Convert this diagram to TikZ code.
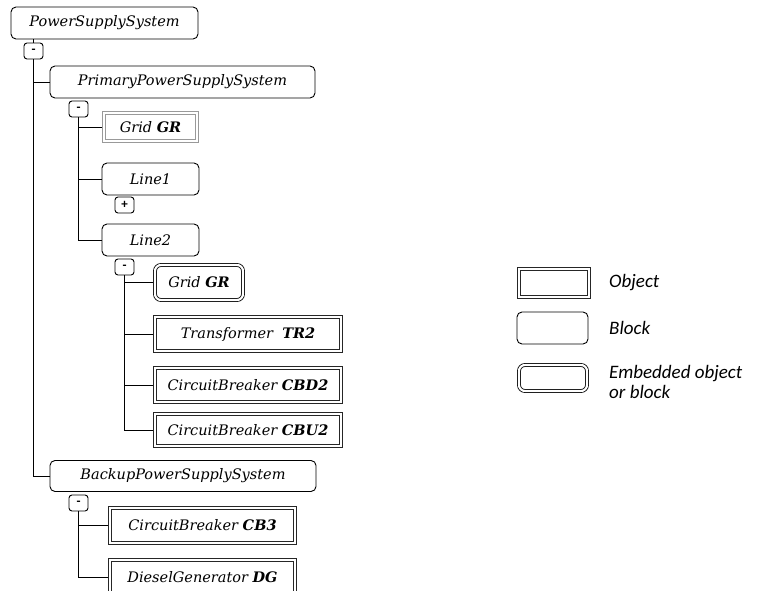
\documentclass[tikz,border=0pt]{standalone}
\usepackage{fontspec}
\setmainfont{DejaVu Serif}
\newfontfamily\legfont{Carlito}
\begin{document}
\begin{tikzpicture}[x=1pt,y=-1pt,
  every node/.style={inner sep=0pt, font=\fontsize{14.5}{16}\selectfont\itshape},
  blockbox/.style={draw=black, line width=0.9pt, rounded corners=5pt, outer sep=0.45pt},
  objbox/.style={draw=black!85, line width=0.8pt, double=white, double distance=2.2pt, outer sep=1.9pt},
  greyobj/.style={draw=black!40, line width=0.9pt, double=white, double distance=2.2pt, outer sep=2pt},
  embbox/.style={draw=black, line width=0.8pt, double=white, double distance=2.2pt, rounded corners=6pt, outer sep=1.9pt},
  togglebox/.style={draw=black, line width=0.9pt, rounded corners=3pt, minimum width=19pt, minimum height=16pt, font=\legfont\bfseries\fontsize{13}{13}\selectfont},
  conn/.style={draw=black, line width=0.9pt},
  legtext/.style={anchor=west, align=left, font=\legfont\itshape\fontsize{19}{20}\selectfont}
]
\useasboundingbox (0,0) rectangle (758,591);

% tree nodes
\node[blockbox, minimum width=187pt, minimum height=32pt] (pss) at (104.5,23) {PowerSupplySystem};
\node[togglebox] (t1) at (33.5,51) {-};
\node[blockbox, minimum width=265pt, minimum height=32pt] (ppss) at (182.5,82) {PrimaryPowerSupplySystem};
\node[togglebox] (t2) at (78.5,109) {-};
\node[greyobj, minimum width=93pt, minimum height=28pt] (gr1) at (150.5,127) {Grid \textbf{GR}};
\node[blockbox, minimum width=97pt, minimum height=32pt] (line1) at (150.5,179) {Line1};
\node[togglebox] (t3) at (124.5,205) {+};
\node[blockbox, minimum width=97pt, minimum height=32pt] (line2) at (150.5,240) {Line2};
\node[togglebox] (t4) at (124.5,267) {-};
\node[embbox, minimum width=88pt, minimum height=35pt] (gr2) at (199,282.5) {Grid \textbf{GR}};
\node[objbox, minimum width=186pt, minimum height=34pt] (tr2) at (248,334) {Transformer\ \ \textbf{TR2}};
\node[objbox, minimum width=186pt, minimum height=34pt] (cbd2) at (248,385) {CircuitBreaker \textbf{CBD2}};
\node[objbox, minimum width=186pt, minimum height=32pt] (cbu2) at (248,430) {CircuitBreaker \textbf{CBU2}};
\node[blockbox, minimum width=266pt, minimum height=31pt] (bps) at (183,476) {BackupPowerSupplySystem};
\node[togglebox] (t5) at (78.5,503) {-};
\node[objbox, minimum width=185pt, minimum height=35pt] (cb3) at (202.5,525.5) {CircuitBreaker \textbf{CB3}};
\node[objbox, minimum width=185pt, minimum height=35pt] (dg) at (202.5,577.5) {DieselGenerator \textbf{DG}};

% connectors
\draw[conn] (pss.south -| t1) -- (t1.north);
\draw[conn] (t1.south) |- (ppss.west);
\draw[conn] (t1.south) |- (bps.west);
\draw[conn] (t2.south) |- (gr1.west);
\draw[conn] (t2.south) |- (line1.west);
\draw[conn] (t2.south) |- (line2.west);
\draw[conn] (t4.south) |- (gr2.west);
\draw[conn] (t4.south) |- (tr2.west);
\draw[conn] (t4.south) |- (cbd2.west);
\draw[conn] (t4.south) |- (cbu2.west);
\draw[conn] (t5.south) |- (cb3.west);
\draw[conn] (t5.south) |- (dg.west);

% legend
\node[objbox, minimum width=70pt, minimum height=28pt] (lobj) at (554,283) {};
\node[legtext] (lobjt) at (609,283) {Object};
\node[blockbox, minimum width=71pt, minimum height=32pt] (lblk) at (552.5,328) {};
\node[legtext] (lblkt) at (609,328) {Block};
\node[embbox, minimum width=68pt, minimum height=26pt] (lemb) at (553,378) {};
\node[legtext] (lembt) at (609,382) {Embedded object\\or block};
\end{tikzpicture}
\end{document}
